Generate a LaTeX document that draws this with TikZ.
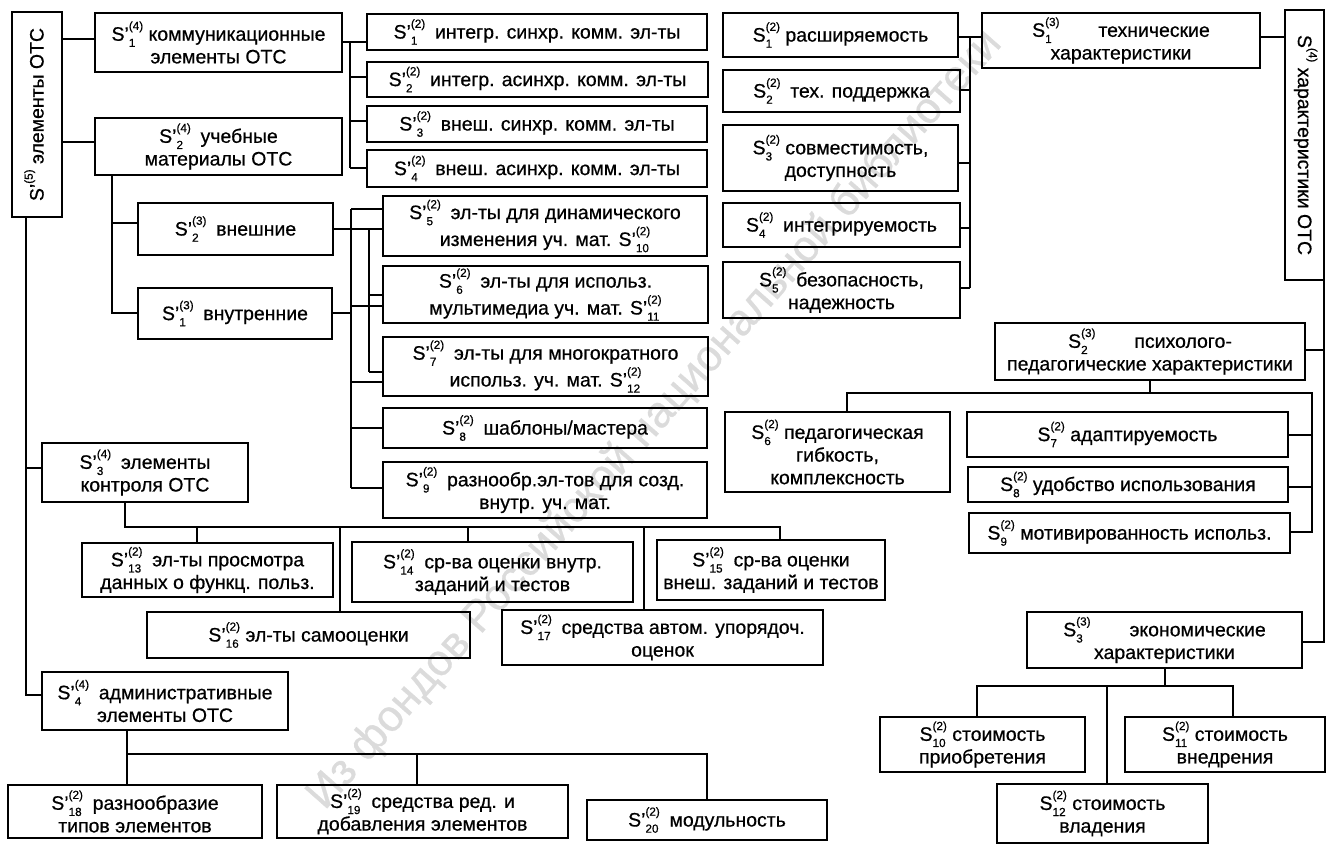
\documentclass[tikz,border=0pt]{standalone}
\usepackage{fontspec}
\setmainfont{Liberation Sans}[FakeBold=0.6]
\newcommand\fs{\fontsize{14.6}{17}\selectfont}
\newcommand\sfs{\fontsize{8.8}{9}\selectfont}
\newcommand\stk[2]{\rlap{\raisebox{-0.6ex}{\sfs #1}}\raisebox{1.05ex}{\sfs(#2)}}
\newcommand\SP[2]{S'\stk{#1}{#2}}
\newcommand\SN[2]{S\stk{#1}{#2}}
\newcommand\bx[6]{\node[box, minimum width={(#4-#2)*0.75pt}, minimum height={(#5-#3)*0.75pt}] (#1) at ({(#2+#4)/2},{(#3+#5)/2}) {#6};}
\begin{document}
\begin{tikzpicture}[x=0.75pt,y=-0.75pt,
  box/.style={draw, line width=1.7pt, inner sep=0pt, outer sep=0pt, align=center, font=\fs},
  ln/.style={line width=1.4pt},
  lbl/.style={font=\fs, inner sep=0pt}]
\useasboundingbox (0,0) rectangle (1337,844);
\node[rotate=48.5, text=black!14, font=\fontsize{33}{33}\selectfont] (wm) at (655,420) {Из фондов Российской национальной библиотеки};
% left part
\bx{S5v}{12}{12}{62}{217}{}
\node[lbl, rotate=90] (S5t) at (S5v.center) {\SP{}{5} элементы ОТС};
\bx{L1}{95}{13}{342}{72}{\SP{1}{4} коммуникационные\\элементы ОТС}
\bx{L2}{95}{118}{342}{175}{\SP{2}{4}\enspace учебные\\материалы ОТС}
\bx{a1}{367}{14}{707}{50}{\SP{1}{2}\enspace интегр. синхр. комм. эл-ты}
\bx{a2}{367}{62}{708}{97}{\SP{2}{2}\enspace интегр. асинхр. комм. эл-ты}
\bx{a3}{367}{106}{707}{142}{\SP{3}{2}\enspace внеш. синхр. комм. эл-ты}
\bx{a4}{367}{150}{707}{187}{\SP{4}{2}\enspace внеш. асинхр. комм. эл-ты}
\bx{e}{138}{203}{333}{255}{\SP{2}{3}\enspace внешние}
\bx{i}{138}{288}{332}{339}{\SP{1}{3}\enspace внутренние}
\bx{b5}{383}{196}{707}{256}{\SP{5}{2}\enspace эл-ты для динамического\\изменения уч. мат. \SP{10}{2}}
\bx{b6}{383}{266}{708}{323}{\SP{6}{2}\enspace эл-ты для использ.\\мультимедиа уч. мат. \SP{11}{2}}
\bx{b7}{383}{337}{708}{396}{\SP{7}{2}\enspace эл-ты для многократного\\использ. уч. мат. \SP{12}{2}}
\bx{b8}{383}{408}{707}{448}{\SP{8}{2}\enspace шаблоны/мастера}
\bx{b9}{383}{462}{707}{518}{\SP{9}{2}\enspace разнообр.эл-тов для созд.\\внутр. уч. мат.}
\bx{L3}{42}{443}{248}{502}{\SP{3}{4}\enspace элементы\\контроля ОТС}
\bx{c13}{82}{543}{333}{597}{\SP{13}{2}\enspace эл-ты просмотра\\данных о функц. польз.}
\bx{c14}{352}{542}{633}{602}{\SP{14}{2}\enspace ср-ва оценки внутр.\\заданий и тестов}
\bx{c15}{657}{540}{885}{600}{\SP{15}{2}\enspace ср-ва оценки\\внеш. заданий и тестов}
\bx{c16}{147}{612}{470}{658}{\SP{16}{2} эл-ты самооценки}
\bx{c17}{502}{610}{823}{665}{\SP{17}{2}\enspace средства автом. упорядоч.\\оценок}
\bx{L4}{42}{672}{288}{730}{\SP{4}{4}\enspace административные\\элементы ОТС}
\bx{d18}{8}{785}{262}{838}{\SP{18}{2}\enspace разнообразие\\типов элементов}
\bx{d19}{277}{785}{568}{838}{\SP{19}{2}\enspace средства ред. и\\добавления элементов}
\bx{d20}{587}{800}{827}{840}{\SP{20}{2}\enspace модульность}
% right part
\bx{Rv}{1285}{10}{1324}{280}{}
\node[lbl, rotate=-90] (Rt) at (Rv.center) {\SN{}{4} характеристики ОТС};
\bx{r1}{723}{13}{958}{57}{\SN{1}{2} расширяемость}
\bx{r2}{723}{70}{960}{112}{\SN{2}{2}\enspace тех. поддержка}
\bx{r3}{723}{125}{958}{191}{\SN{3}{2} совместимость,\\доступность}
\bx{r4}{723}{203}{960}{247}{\SN{4}{2}\enspace интегрируемость}
\bx{r5}{723}{262}{960}{318}{\SN{5}{2}\enspace безопасность,\\надежность}
\bx{T1}{982}{13}{1260}{68}{\SN{1}{3}\qquad технические\\характеристики}
\bx{T2}{995}{323}{1305}{380}{\SN{2}{3}\qquad психолого-\\педагогические характеристики}
\bx{p6}{725}{412}{950}{492}{\SN{6}{2} педагогическая\\гибкость,\\комплексность}
\bx{p7}{967}{412}{1288}{457}{\SN{7}{2} адаптируемость}
\bx{p8}{968}{467}{1288}{502}{\SN{8}{2} удобство использования}
\bx{p9}{969}{513}{1290}{553}{\SN{9}{2} мотивированность использ.}
\bx{T3}{1027}{612}{1302}{668}{\SN{3}{3}\qquad экономические\\характеристики}
\bx{q10}{880}{717}{1085}{772}{\SN{10}{2} стоимость\\приобретения}
\bx{q11}{1125}{717}{1325}{772}{\SN{11}{2} стоимость\\внедрения}
\bx{q12}{997}{784}{1208}{843}{\SN{12}{2} стоимость\\владения}
% connectors left
\draw[ln] (S5v.east |- 0,39) -- (L1.west |- 0,39);
\draw[ln] (S5v.east |- 0,142) -- (L2.west |- 0,142);
\draw[ln] (S5v.south -| 26,0) -- (26,695) -- (L4.west |- 0,695);
\draw[ln] (26,468) -- (L3.west |- 0,468);
\draw[ln] (L1.east |- 0,42) -- (a1.west |- 0,42);
\draw[ln] (350,42) -- (350,168);
\foreach \n/\y in {a2/77,a3/121,a4/168} \draw[ln] (350,\y) -- (\n.west |- 0,\y);
\draw[ln] (L2.south -| 112,0) -- (112,313) -- (i.west |- 0,313);
\draw[ln] (112,223) -- (e.west |- 0,223);
\draw[ln] (e.east |- 0,229) -- (b5.west |- 0,229);
\draw[ln] (369,229) -- (369,372);
\draw[ln] (369,295) -- (b6.west |- 0,295);
\draw[ln] (369,372) -- (b7.west |- 0,372);
\draw[ln] (i.east |- 0,313) -- (351,313);
\draw[ln] (351,209) -- (351,488);
\foreach \n/\y in {b5/209,b6/306,b7/382,b8/428,b9/488} \draw[ln] (351,\y) -- (\n.west |- 0,\y);
\draw[ln] (L3.south -| 125,0) -- (125,527) -- (780,527) -- (c15.north -| 780,0);
\foreach \n/\x in {c13/197,c16/340,c14/468,c17/644} \draw[ln] (\x,527) -- (\n.north -| \x,0);
\draw[ln] (L4.south -| 127,0) -- (127,754) -- (707,754) -- (d20.north -| 707,0);
\draw[ln] (127,754) -- (d18.north -| 127,0);
\draw[ln] (417,754) -- (d19.north -| 417,0);
% connectors right
\draw[ln] (r1.east |- 0,37) -- (T1.west |- 0,37);
\draw[ln] (970,37) -- (970,288);
\foreach \n/\y in {r2/90,r3/163,r4/228,r5/288} \draw[ln] (\n.east |- 0,\y) -- (970,\y);
\draw[ln] (T1.east |- 0,37) -- (Rv.west |- 0,37);
\draw[ln] (Rv.south east) -- (1324,642) -- (T3.east |- 0,642);
\draw[ln] (T2.east |- 0,350) -- (1324,350);
\draw[ln] (T2.south -| 1150,0) -- (1150,393);
\draw[ln] (p6.north -| 847,0) -- (847,393) -- (1312,393) -- (1312,532) -- (p9.east |- 0,532);
\draw[ln] (p7.east |- 0,435) -- (1312,435);
\draw[ln] (p8.east |- 0,487) -- (1312,487);
\draw[ln] (T3.south -| 1165,0) -- (1165,686);
\draw[ln] (q10.north -| 977,0) -- (977,686) -- (1233,686) -- (q11.north -| 1233,0);
\draw[ln] (1107,686) -- (q12.north -| 1107,0);
\end{tikzpicture}
\end{document}
